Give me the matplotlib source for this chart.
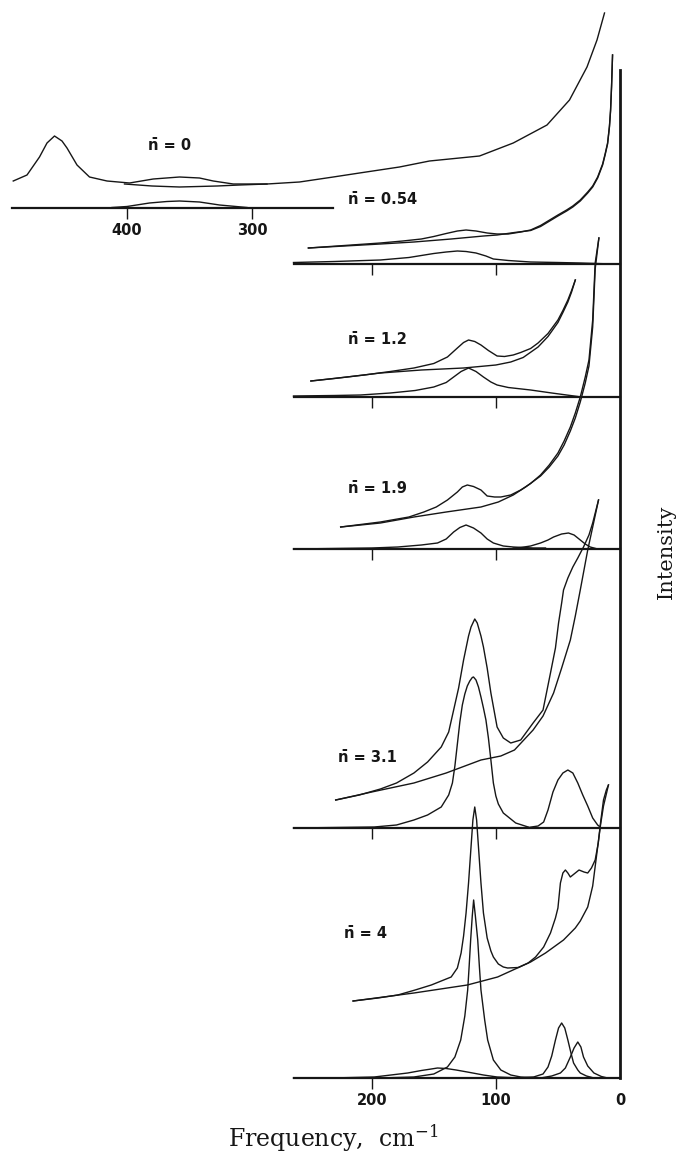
import matplotlib.pyplot as plt

FIG_W, FIG_H = 681, 1160
INK = '#161616'

# ---------------------------------------------------------------
# spectra: frequency (cm-1) and intensity (arb. units above baseline)
# ---------------------------------------------------------------

# n = 0
n0_obs_f = [491, 480, 470, 464, 458, 452, 448, 440, 430, 416, 398, 379, 358, 342, 331,
            315, 288, 262, 235, 214, 182, 158, 118, 91, 64, 46, 32, 24, 18]
n0_obs_i = [26.5, 32.5, 50.5, 64.5, 71.5, 66.5, 59.5, 42.5, 30.5, 26.5, 24.5, 28.5, 30.5, 29.5, 26.5,
            23.5, 23.5, 25.5, 30.5, 34.5, 40.5, 46.5, 51.5, 64.5, 82.5, 107.5, 140.5, 167.5, 194.5]
n0_bg_f = [402, 380, 358, 328, 310, 288]
n0_bg_i = [23.5, 21.5, 20.5, 21.5, 22.5, 23.5]
n0_band_f = [412, 400, 382, 368, 358, 342, 326, 304]
n0_band_i = [0, 1, 4.5, 6, 6.5, 5.5, 2.5, 0]

# n = 0.54
n054_obs_f = [251, 222, 193, 175, 160, 150, 140, 131, 124, 116, 107, 99, 90, 80, 72, 64, 58,
              50, 43, 38, 32, 26, 22, 18, 14, 12, 10, 8.5, 7.6, 6.8, 6]
n054_obs_i = [16, 18.5, 21, 23, 25, 27.5, 30.5, 33, 34, 33, 31, 30, 30, 32, 34, 38.5, 43,
              49, 54, 58, 64, 72, 78, 87, 100, 110, 121, 138, 154, 178, 209]
n054_bg_f = [251, 222, 193, 166, 136, 110, 99, 85, 72, 64, 58, 50, 43, 38, 32, 26, 22, 18,
             14, 12, 10, 8.5, 7.6, 6.8, 6]
n054_bg_i = [16, 18, 20, 22, 25, 28, 29, 31.5, 33.5, 37.5, 42, 48, 53, 57, 63, 71, 77, 86,
             99, 109, 120, 137, 153, 177, 209]
n054_band_f = [263, 230, 193, 170, 160, 150, 140, 131, 124, 116, 108, 102, 90, 72, 50, 32, 6]
n054_band_i = [1.5, 2.5, 4, 6.5, 8.5, 10.5, 12, 13, 12.5, 11, 8, 5, 3.5, 2, 1.5, 1, 0]

# n = 1.2
n12_obs_f = [249, 230, 206, 185, 166, 150, 139, 131, 126, 122, 117, 112, 106, 99, 93, 86,
             80, 72, 66, 58, 50, 46, 42, 39, 36]
n12_obs_i = [15.5, 18, 21.5, 25, 28.5, 33, 39.5, 48.5, 54, 56.5, 55, 51.5, 46, 40.5, 40, 41.5,
             44, 48, 53.5, 63, 76.5, 86, 96.5, 106, 116.5]
n12_bg_f = [249, 220, 193, 160, 126, 100, 88, 78, 66, 58, 50, 46, 42, 39, 36]
n12_bg_i = [15.5, 19.5, 23.5, 26.5, 28.5, 31.5, 34.5, 39, 49.5, 60, 74, 84, 94.5, 104.5, 116.5]
n12_band_f = [263, 230, 209, 185, 165, 150, 140, 134, 128, 122, 116, 110, 104, 99, 90, 72, 55, 34]
n12_band_i = [0.5, 1, 1.5, 3.5, 6, 9.5, 14, 19.5, 25, 28.5, 25, 19.5, 14.5, 11.5, 9, 6.5, 3.5, 0]

# n = 1.9
n19_obs_f = [225, 193, 170, 158, 148, 139, 131, 127, 123, 118, 112, 107, 101, 96, 88, 80, 72,
             64, 57, 50, 45, 40, 36, 32, 28, 25, 22, 20, 17]
n19_obs_i = [22, 27, 32, 37, 42, 49, 57, 62, 64, 62.5, 59, 53, 52, 52, 54, 59, 65.5,
             74, 84, 96, 108, 122, 136, 152, 172, 189, 229, 286, 311]
n19_bg_f = [225, 193, 166, 140, 112, 98, 86, 76, 64, 57, 50, 45, 40, 36, 32, 28, 25, 22, 20, 17]
n19_bg_i = [22, 26, 32, 37, 42, 47, 54, 62, 73, 82, 93, 104, 118, 131, 147, 166, 183, 222, 280, 311]
n19_band1_f = [263, 200, 179, 160, 147, 140, 134, 129, 124, 118, 112, 107, 102, 94, 86, 70, 60]
n19_band1_i = [0, 1, 2, 4, 6, 10, 17, 21.5, 24, 21, 16, 10, 6, 3, 2, 1, 1]
n19_band2_f = [86, 80, 72, 64, 58, 53.5, 47, 41.5, 37, 32, 28, 24, 18]
n19_band2_i = [1, 1.5, 3, 6, 9, 12, 15, 16, 14, 9, 5, 2, 0]

# n = 3.1
n31_obs_f = [229, 210, 193, 180, 166, 155, 144, 138, 134, 130, 126, 122, 120, 117, 115, 112,
             110, 107, 104, 99, 94, 88, 80, 70, 62, 56, 52, 49.5, 47, 45.5, 42, 38, 34, 29.4,
             25, 22, 17.3]
n31_obs_i = [28, 33, 39, 45, 55, 66, 81, 96, 118, 140, 168, 192, 201, 209, 205, 192,
             181, 160, 135, 101, 90, 85, 88, 105, 118, 155, 180, 205, 225, 238, 250, 261, 270, 281,
             293, 305, 328]
n31_bg_f = [229, 200, 166, 140, 112, 96, 85, 70, 62, 53.5, 47, 40, 36, 32, 29, 26, 21.3, 17.3]
n31_bg_i = [28, 36, 45, 55, 68, 72, 78, 98, 112, 135, 160, 188, 212, 238, 258, 278, 305, 328]
n31_band1_f = [263, 198, 180, 166, 155, 144, 138, 135, 133, 131, 129, 127, 125, 123, 121, 119,
               118, 116, 114, 112, 110, 108, 106, 104, 102, 100, 98, 94, 90, 84, 74]
n31_band1_i = [0, 1, 3, 8, 13, 21, 33, 45, 62, 84, 106, 123, 134, 142, 147, 150.5,
               151, 148, 141, 131, 120, 108, 90, 68, 45, 32, 24, 15, 11, 5, 1]
n31_band2_f = [74, 66, 61.5, 58, 54, 50, 46, 42, 38, 34, 30, 26, 22, 18, 15]
n31_band2_i = [0.5, 2, 6, 18, 36, 48, 55, 58, 55, 45, 33, 22, 10, 3, 0]

# n = 4
n4_obs_f = [215, 195, 179, 165, 152, 142, 136, 131, 128, 126, 124, 122, 120, 118.5, 117, 115.5,
            114, 112, 110, 107, 104, 102, 98, 94, 90.5, 82, 74, 68, 61.5, 56, 52, 50, 48, 46,
            44, 42, 40, 37, 33, 29, 26, 23, 20, 17.5, 15.7, 13.3, 11, 9.3]
n4_obs_i = [77, 80, 83, 88, 93, 98, 101, 110, 125, 142, 165, 195, 231, 258, 271, 258,
            231, 195, 165, 140, 127, 121, 114, 111, 110, 110.5, 115, 121, 131, 145, 160, 170, 195, 205,
            208, 205, 201, 204, 208, 206, 205, 210, 218, 235, 255, 278, 288, 293]
n4_bg_f = [215, 166, 123, 98.6, 72, 60, 45.5, 36, 32, 26, 22, 18, 15.7, 13.3, 9.3]
n4_bg_i = [77, 85, 93, 101, 116, 125, 138, 150, 157, 171, 192, 231, 253, 272, 293]
n4_band1_f = [263, 193, 166, 150, 139, 133, 128.3, 125, 122.7, 121.5, 120.3, 119, 117.9, 116.5,
              114.6, 113.3, 112, 109, 106.6, 102, 96, 88, 80, 60]
n4_band1_i = [0, 0, 1, 4, 11, 21, 38, 62, 88, 112, 138, 162, 178, 162,
              138, 112, 88, 58, 38, 18, 8, 3, 1, 0]
n4_band2_f = [233, 198, 171, 160, 152, 147, 140, 132, 123, 110, 99, 80]
n4_band2_i = [0, 1, 5, 7.5, 9, 10, 9.5, 8, 6, 3, 1, 0]
n4_band3_f = [80, 69.6, 62, 58, 55, 52, 49.5, 47, 44.5, 42, 39.5, 37.4, 34, 32, 27, 21]
n4_band3_i = [0, 1, 4, 11, 22, 38, 50, 55, 50, 38, 25, 15, 8, 5, 2, 0]
n4_band4_f = [64, 55, 48, 44, 40, 37, 34, 31.5, 29.4, 26, 21, 15, 10]
n4_band4_i = [0, 2, 5, 10, 21, 30, 36, 31, 21, 12, 5, 1.5, 0]

labels = ['0', '0.54', '1.2', '1.9', '3.1', '4']

# ---------------------------------------------------------------

plt.rcParams['font.family'] = ['DejaVu Sans']

fig = plt.figure(figsize=(FIG_W / 100, FIG_H / 100), dpi=100)
fig.patch.set_facecolor('white')


def panel(left_px, right_px, base_px, height_px, fmax, fmin):
    ax = fig.add_axes([left_px / FIG_W, 1 - base_px / FIG_H,
                       (right_px - left_px) / FIG_W, height_px / FIG_H])
    ax.set_xlim(fmax, fmin)
    ax.set_ylim(0, height_px)
    ax.patch.set_visible(False)
    for s in ('top', 'left', 'right'):
        ax.spines[s].set_visible(False)
    ax.spines['bottom'].set_linewidth(1.6)
    ax.spines['bottom'].set_color(INK)
    ax.set_yticks([])
    ax.tick_params(axis='x', direction='out', length=8, width=1.0, pad=3,
                   color=INK, labelcolor=INK)
    return ax


def curves(ax, *pairs):
    for f, i in pairs:
        ax.plot(f, i, color=INK, lw=1.0, clip_on=False, solid_joinstyle='round')


def tag(ax, f, y, text):
    ax.text(f, y, '\u006e\u0304 = ' + text, fontsize=10.5, fontweight='bold',
            ha='left', va='center', color=INK)


# frame / intensity axis line
frame = fig.add_axes([293.5 / FIG_W, 1 - 1078 / FIG_H, (620 - 293.5) / FIG_W, (1078 - 70) / FIG_H])
frame.set_xlim(263, 0)
frame.set_ylim(0, 1)
frame.patch.set_visible(False)
for s in ('top', 'left', 'bottom'):
    frame.spines[s].set_visible(False)
frame.spines['right'].set_linewidth(2.0)
frame.spines['right'].set_color(INK)
frame.set_xticks([])
frame.set_yticks([])

# n = 0 panel (own frequency window)
ax0 = panel(12, 627, 207.5, 200, 492, 0)
ax0.spines['bottom'].set_bounds(235, 492)
ax0.set_xticks([400, 300])
ax0.set_xticklabels(['400', '300'], fontsize=10.5, fontweight='bold')
curves(ax0, (n0_obs_f, n0_obs_i), (n0_bg_f, n0_bg_i), (n0_band_f, n0_band_i))
tag(ax0, 383, 61.5, labels[0])

# lower panels share one frequency window
LEFT, RIGHT = 293.5, 620
ax1 = panel(LEFT, RIGHT, 264, 210, 263, 0)
curves(ax1, (n054_obs_f, n054_obs_i), (n054_bg_f, n054_bg_i), (n054_band_f, n054_band_i))
tag(ax1, 219, 65, labels[1])

ax2 = panel(LEFT, RIGHT, 396.5, 120, 263, 0)
curves(ax2, (n12_obs_f, n12_obs_i), (n12_bg_f, n12_bg_i), (n12_band_f, n12_band_i))
tag(ax2, 219, 56.5, labels[2])

ax3 = panel(LEFT, RIGHT, 549, 315, 263, 0)
curves(ax3, (n19_obs_f, n19_obs_i), (n19_bg_f, n19_bg_i),
       (n19_band1_f, n19_band1_i), (n19_band2_f, n19_band2_i))
tag(ax3, 219, 60, labels[3])

ax4 = panel(LEFT, RIGHT, 828, 330, 263, 0)
curves(ax4, (n31_obs_f, n31_obs_i), (n31_bg_f, n31_bg_i),
       (n31_band1_f, n31_band1_i), (n31_band2_f, n31_band2_i))
tag(ax4, 227, 71, labels[4])

ax5 = panel(LEFT, RIGHT, 1078, 300, 263, 0)
curves(ax5, (n4_obs_f, n4_obs_i), (n4_bg_f, n4_bg_i), (n4_band1_f, n4_band1_i),
       (n4_band2_f, n4_band2_i), (n4_band3_f, n4_band3_i), (n4_band4_f, n4_band4_i))
tag(ax5, 222.5, 145, labels[5])

for ax in (ax1, ax2, ax3, ax4):
    ax.set_xticks([200, 100])
    ax.set_xticklabels([])
ax5.set_xticks([200, 100, 0])
ax5.set_xticklabels(['200', '100', '0'], fontsize=10.5, fontweight='bold')
ax5.xaxis.get_major_ticks()[2].tick1line.set_visible(False)

fig.text(666 / FIG_W, 1 - 552 / FIG_H, 'Intensity', rotation=90, ha='center', va='center',
         family='DejaVu Serif', fontsize=15, color=INK)
fig.text(333 / FIG_W, 1 - 1138 / FIG_H, 'Frequency,  cm$^{-1}$', ha='center', va='center',
         family='DejaVu Serif', math_fontfamily='dejavuserif', fontsize=17, color=INK)

fig.savefig('out.png', dpi=100, facecolor='white')
